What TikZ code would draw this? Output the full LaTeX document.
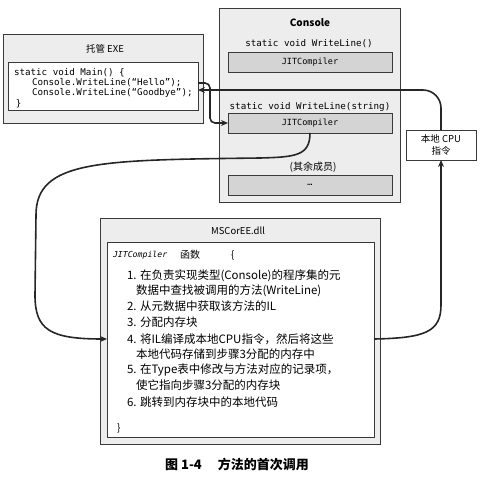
\documentclass[tikz,border=0pt]{standalone}
\usepackage{fontspec}
\setmainfont{Noto Sans CJK SC}
\setmonofont{DejaVu Sans Mono}
\usetikzlibrary{calc,positioning,arrows.meta}
\definecolor{paneldark}{HTML}{3A3A3A}
\definecolor{panelfill}{HTML}{EDEDED}
\definecolor{stubfill}{HTML}{D4D4D4}

\begin{document}
\begin{tikzpicture}[x=1pt, y=-1pt,
    every node/.style={inner sep=0pt, outer sep=0pt},
    panel/.style={draw=paneldark, line width=0.9pt, fill=panelfill},
    sheet/.style={draw=paneldark, line width=0.9pt, fill=white},
    stub/.style={draw=paneldark, line width=0.9pt, fill=stubfill, minimum width=164pt, minimum height=20pt, font=\ttfamily\fontsize{8.5}{10}\selectfont},
    codeline/.style={anchor=west, font=\ttfamily\fontsize{9.2}{11}\selectfont},
    stepline/.style={anchor=west, font=\fontsize{11.5}{13}\selectfont},
    flow/.style={line width=1.6pt, draw=black!85, -{Stealth[length=7pt,width=6pt]}}]
    \useasboundingbox (0,0) rectangle (500,496);

    % Managed EXE (left)
    \node[panel, minimum width=200pt, minimum height=89pt] (exe) at (103,78.5) {};
    \node[font=\fontsize{9.5}{11}\selectfont] (exetitle) at (105,49) {托管 EXE};
    \node[sheet, minimum width=190pt, minimum height=48pt] (code) at (103,86) {};
    \node[codeline] (mainsig) at (14,73) {static void Main() \{};
    \node[codeline] (hello) at (32,83) {Console.WriteLine(“Hello”);};
    \node[codeline] (goodbye) at (32,93) {Console.WriteLine(“Goodbye”);};
    \node[codeline] (mainend) at (16,104) {\}};

    % Console type (top)
    \node[panel, minimum width=181pt, minimum height=194pt] (console) at (309.5,105) {};
    \node[font=\bfseries\fontsize{10}{12}\selectfont] (constitle) at (310,23) {Console};
    \node[codeline, anchor=center] (sig1) at (309,44) {static void WriteLine()};
    \node[stub] (jit1) at (310,62) {JITCompiler};
    \node[codeline, anchor=center] (sig2) at (310,107) {static void WriteLine(string)};
    \node[stub] (jit2) at (310,123) {JITCompiler};
    \node[font=\fontsize{10}{12}\selectfont] (others) at (313,167) {(其余成员)};
    \node[stub] (rest) at (310,185) {…};

    % Native CPU box
    \node[draw=paneldark, line width=0.9pt, fill=white, minimum width=70pt, minimum height=30pt,
          align=center, font=\fontsize{9.5}{12}\selectfont] (cpu) at (441,145) {本地 CPU\\指令};

    % MSCorEE (bottom)
    \node[panel, minimum width=280pt, minimum height=226pt] (mscor) at (240,331) {};
    \node[font=\fontsize{9.5}{11}\selectfont] (dlltitle) at (238,231) {MSCorEE.dll};
    \node[sheet, minimum width=267pt, minimum height=195pt] (jitbody) at (240.5,339.5) {};
    \node[anchor=west, font=\ttfamily\itshape\fontsize{8.2}{10}\selectfont] (jitname) at (113,255) {JITCompiler};
    \node[anchor=west, font=\fontsize{10}{12}\selectfont] (jitkw) at (180,255) {函数};
    \node[anchor=west, font=\fontsize{10}{12}\selectfont] (jitopen) at (231,255) {\{};

    % Steps
    \foreach \n/\x/\y/\t in {1/127/276/{1. 在负责实现类型(Console)的程序集的元},
                             2/136/291/{数据中查找被调用的方法(WriteLine)},
                             3/127/306/{2. 从元数据中获取该方法的IL},
                             4/127/322/{3. 分配内存块},
                             5/127/339/{4. 将IL编译成本地CPU指令，然后将这些},
                             6/136/354/{本地代码存储到步骤3分配的内存中},
                             7/127/370/{5. 在Type表中修改与方法对应的记录项，},
                             8/136/385/{使它指向步骤3分配的内存块},
                             9/127/402/{6. 跳转到内存块中的本地代码}} {
        \node[stepline] (line\n) at (\x,\y) {\t};
    }
    \node[anchor=west, font=\fontsize{10}{12}\selectfont] (jitclose) at (117,428) {\}};

    % Caption
    \node[font=\bfseries\fontsize{13}{15}\selectfont] (caption) at (237,465) {图 1-4\quad\ 方法的首次调用};

    % Call flow
    \draw[flow, rounded corners=5pt] (hello.east -| code.east) -- ++(12,0) |- (jit2.west);
    \draw[flow] (jit2.south) .. controls (310,156) and (295,157) .. (260,158)
        .. controls (100,160) and (36,160) .. (36,215) -- (35,295)
        .. controls (35,330) and (50,339) .. (line5.west -| jitbody.west);
    \draw[flow] (line5.west -| jitbody.east) .. controls (425,338) and (441,332) .. (441,305) -- (cpu.south);
    \draw[flow, rounded corners=18pt] (cpu.north) |- ($(code.east)+(0,4)$);
\end{tikzpicture}
\end{document}
